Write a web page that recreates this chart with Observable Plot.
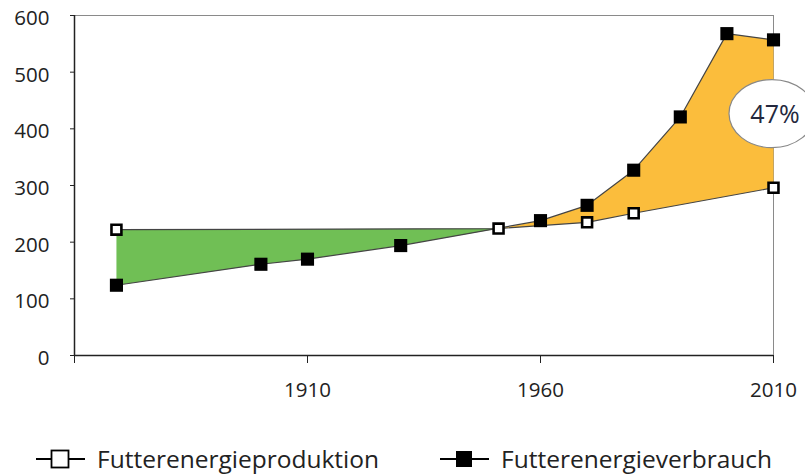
<!DOCTYPE html>
<html>
<head>
<meta charset="utf-8">
<script src="https://cdn.jsdelivr.net/npm/d3@7"></script>
<script src="https://cdn.jsdelivr.net/npm/@observablehq/plot@0.6"></script>
<style>
  html, body { margin: 0; padding: 0; background: #fff; }
  body { width: 805px; height: 476px; overflow: hidden; font-family: "Open Sans", sans-serif; }
  #chart { height: 410px; }
  #chart svg { display: block; }
  #legend { position: relative; height: 66px; }
  .item { position: absolute; top: 32px; height: 34px; display: flex; align-items: center; font-size: 24.5px; color: #222; line-height: 34px; white-space: nowrap; }
  .item svg { margin-right: 12px; }
</style>
</head>
<body>
<div id="chart"></div>
<div id="legend"></div>
<script>
// Data
const prodYears = [1869, 1951, 1970, 1980, 2010];
const prodValues = [222, 224, 235, 251, 296];
const consYears = [1869, 1900, 1910, 1930, 1960, 1970, 1980, 1990, 2000, 2010];
const consValues = [124, 161, 170, 194, 238, 265, 327, 421, 568, 557];
const seriesNames = ["Futterenergieproduktion", "Futterenergieverbrauch"];
const xTicks = [1860, 1910, 1960, 2010];
const xTickLabels = ["", "1910", "1960", "2010"];
const yTicks = [0, 100, 200, 300, 400, 500, 600];
const shareLabel = "47%";
const shareYear = 2010;
const shareValue = 426;

const prod = prodYears.map((x, i) => ({x, y: prodValues[i]}));
const cons = consYears.map((x, i) => ({x, y: consValues[i]}));
const crossYear = 1951; // production point where consumption line crosses

// deficit polygon (green): production up to crossing, consumption back
const green = [
  ...prod.filter(d => d.x <= crossYear),
  ...cons.filter(d => d.x < crossYear).reverse()
];
// surplus polygon (orange): consumption after crossing, production back
const orange = [
  ...prod.filter(d => d.x === crossYear),
  ...cons.filter(d => d.x > crossYear),
  ...prod.filter(d => d.x >= crossYear).reverse()
];

const chart = Plot.plot({
  width: 805,
  height: 410,
  marginLeft: 74,
  marginRight: 32,
  marginTop: 15,
  marginBottom: 55,
  style: {fontFamily: "Open Sans, sans-serif", fontSize: "20.5px", color: "#222", background: "#fff", overflow: "visible"},
  x: {domain: [1860, 2010]},
  y: {domain: [0, 600]},
  marks: [
    Plot.frame({stroke: "#8a8a8a", strokeWidth: 1}),
    Plot.line(green, {x: "x", y: "y", fill: "#70bf55", stroke: "none", curve: "linear-closed"}),
    Plot.line(orange, {x: "x", y: "y", fill: "#fbbd3c", stroke: "none", curve: "linear-closed"}),
    Plot.line(prod, {x: "x", y: "y", stroke: "#444", strokeWidth: 1.2}),
    Plot.line(cons, {x: "x", y: "y", stroke: "#444", strokeWidth: 1.2}),
    Plot.dot(cons, {x: "x", y: "y", symbol: "square", r: 7.4, fill: "#000", stroke: "none"}),
    Plot.dot(prod, {x: "x", y: "y", symbol: "square", r: 5.6, fill: "#fff", stroke: "#000", strokeWidth: 2.6}),
    Plot.axisX({ticks: xTicks, tickFormat: d => xTickLabels[xTicks.indexOf(d)], tickSize: 8, tickPadding: 19, label: null, fontSize: 20.5, stroke: "#222"}),
    Plot.axisY({ticks: yTicks, tickSize: 4, tickFormat: () => "", label: null, stroke: "#222"}),
    Plot.axisY({ticks: yTicks, tickSize: 0, tickPadding: 25, dy: 3, label: null, fontSize: 20.5}),
    Plot.ruleX([1860], {stroke: "#222", strokeWidth: 1.5}),
    Plot.ruleY([0], {stroke: "#222", strokeWidth: 1.5})
  ]
});
document.getElementById("chart").appendChild(chart);

// 47% annotation ellipse
const sx = chart.scale("x"), sy = chart.scale("y");
const cx = sx.apply(shareYear) - 1, cy = sy.apply(shareValue);
const svg = d3.select(chart);
svg.append("ellipse").attr("cx", cx).attr("cy", cy).attr("rx", 43).attr("ry", 34)
  .attr("fill", "#fff").attr("stroke", "#888").attr("stroke-width", 1.2);
svg.append("text").attr("x", cx + 3).attr("y", cy).attr("text-anchor", "middle").attr("dy", "0.36em")
  .attr("font-size", 25).attr("fill", "#24283d").attr("font-family", "Open Sans, sans-serif").text(shareLabel);

// Legend
const legend = document.getElementById("legend");
const lefts = [36, 440];
seriesNames.forEach((name, i) => {
  const item = document.createElement("div");
  item.className = "item";
  item.style.left = lefts[i] + "px";
  const filled = i === 1;
  item.innerHTML = `<svg width="49" height="22"><line x1="0" x2="49" y1="11" y2="11" stroke="#000" stroke-width="2"/>` +
    (filled ? `<rect x="16" y="3" width="16" height="16" fill="#000"/>`
            : `<rect x="15.5" y="2.5" width="17" height="17" fill="#fff" stroke="#000" stroke-width="1.8"/>`) +
    `</svg><span>${name}</span>`;
  legend.appendChild(item);
});
</script>
</body>
</html>
